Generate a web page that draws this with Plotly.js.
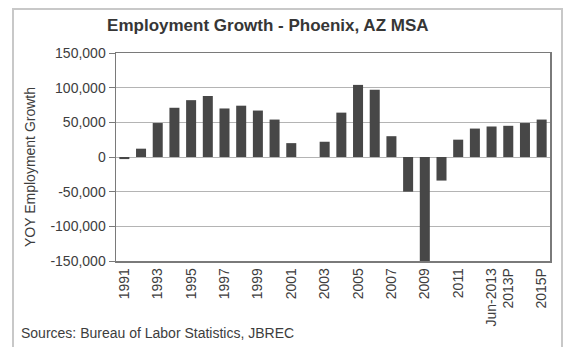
<!DOCTYPE html>
<html>
<head>
<meta charset="utf-8">
<script src="https://cdn.plot.ly/plotly-3.0.1.min.js"></script>
<style>
  html, body { margin: 0; padding: 0; background: #fff; }
  #wrap { position: relative; width: 565px; height: 347px; overflow: hidden; }
  #frame { position: absolute; left: 12px; top: 8px; width: 551px; height: 350px; border: 2px solid #c8c8c8; box-sizing: border-box; pointer-events: none; }
  #chart { position: absolute; left: 0; top: 0; width: 565px; height: 347px; }
</style>
</head>
<body>
<div id="wrap">
  <div id="chart"></div>
  <div id="frame"></div>
</div>
<script>
const categories = ["1991","1992","1993","1994","1995","1996","1997","1998","1999","2000",
  "2001","2002","2003","2004","2005","2006","2007","2008","2009","2010",
  "2011","2012","Jun-2013","2013P","2014P","2015P"];
const growth = [-3000, 12000, 49000, 71000, 82000, 88000, 70000, 74000, 67000, 54000,
  20000, 0, 22000, 64000, 104000, 97000, 30000, -50000, -150000, -34000,
  25000, 41000, 44000, 45000, 49000, 54000];
const shownTicks = ["1991","1993","1995","1997","1999","2001","2003","2005","2007","2009","2011","Jun-2013","2013P","2015P"];
const yTicks = [-150000, -100000, -50000, 0, 50000, 100000, 150000];
const yTickText = ["-150,000","-100,000","-50,000","0","50,000","100,000","150,000"];

const font = "Liberation Sans, Arial, sans-serif";
const txt = "#3d3d3d";

const trace = {
  type: "bar",
  x: categories,
  y: growth,
  marker: { color: "#474747" },
  hoverinfo: "x+y"
};

const layout = {
  width: 565, height: 347,
  margin: { l: 116, r: 15, t: 53, b: 86 },
  paper_bgcolor: "#ffffff",
  plot_bgcolor: "#ffffff",
  bargap: 0.4,
  showlegend: false,
  font: { family: font, size: 14, color: txt },
  title: {
    text: "<b>Employment Growth - Phoenix, AZ MSA</b>",
    font: { family: font, size: 17, color: "#363636" },
    x: 0.474, xref: "container", xanchor: "center",
    y: 1 - 25 / 347, yref: "container", yanchor: "middle"
  },
  xaxis: {
    type: "category",
    tickmode: "array",
    tickvals: shownTicks,
    ticktext: shownTicks,
    tickangle: -90,
    tickfont: { family: font, size: 14, color: txt },
    showline: true, linecolor: "#7a7a7a", linewidth: 1.5, mirror: true,
    showgrid: false,
    ticks: "",
    automargin: false
  },
  yaxis: {
    range: [-150000, 150000],
    tickmode: "array",
    tickvals: yTicks,
    ticktext: yTickText,
    tickfont: { family: font, size: 14, color: txt },
    ticks: "outside", ticklen: 6, tickcolor: "#7a7a7a",
    showline: true, linecolor: "#7a7a7a", linewidth: 1.5, mirror: true,
    showgrid: true, gridcolor: "#b4b4b4", gridwidth: 1,
    zeroline: true, zerolinecolor: "#b4b4b4", zerolinewidth: 1,
    automargin: false
  },
  annotations: [{
    text: "YOY Employment Growth",
    xref: "paper", yref: "paper",
    x: (30 - 116) / 434, y: (261 - 167) / 208,
    xanchor: "center", yanchor: "middle",
    textangle: -90,
    showarrow: false,
    font: { family: font, size: 14, color: txt }
  }, {
    text: "Sources: Bureau of Labor Statistics, JBREC",
    xref: "paper", yref: "paper",
    x: (19 - 116) / 434, y: (261 - 333) / 208,
    xanchor: "left", yanchor: "middle",
    showarrow: false,
    font: { family: font, size: 14, color: txt }
  }]
};

Plotly.newPlot("chart", [trace], layout, { displayModeBar: false, staticPlot: true });
</script>
</body>
</html>
